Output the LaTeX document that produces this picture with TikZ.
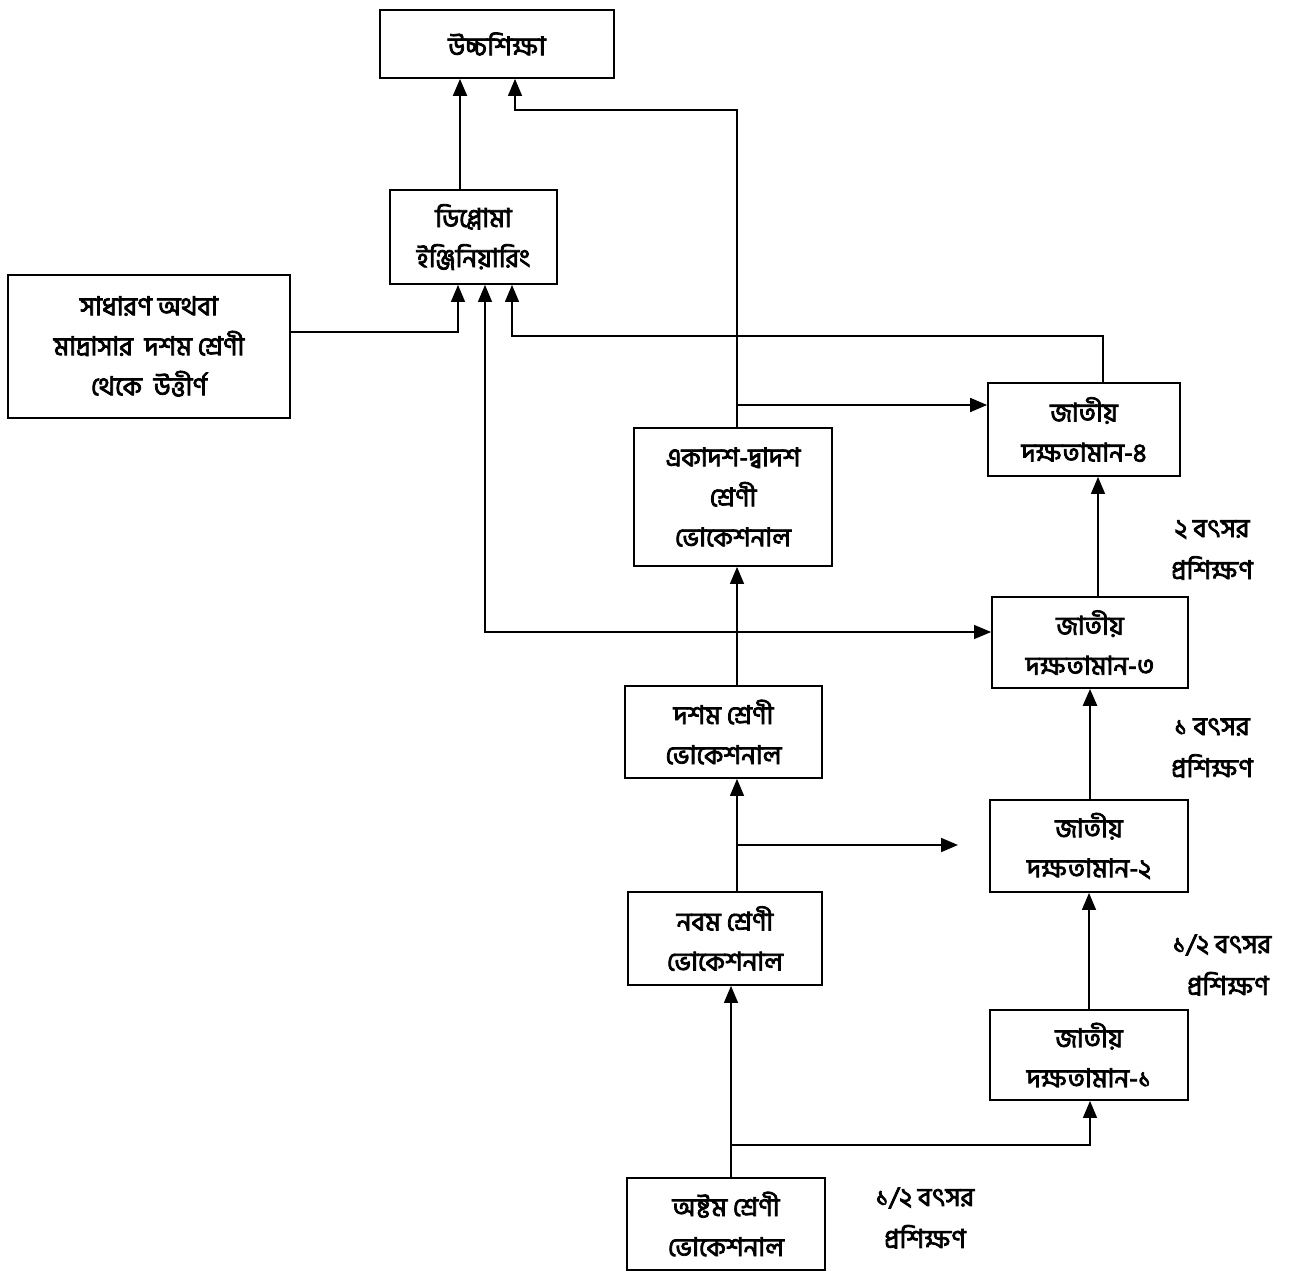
\documentclass[tikz,border=0pt]{standalone}
\usepackage{fontspec}
\newfontfamily\bn[Script=Bengali,FakeBold=3]{Hind Siliguri}
\usetikzlibrary{arrows.meta}
\begin{document}
\begin{tikzpicture}[x=1pt,y=-1pt,
  box/.style={draw,line width=1.8pt,rectangle,align=center,inner sep=0pt,
    font=\bn\fontsize{26}{40}\selectfont},
  lbl/.style={align=center,font=\bn\fontsize{26}{42}\selectfont},
  arr/.style={line width=1.3pt,-{Triangle[length=17pt,width=14pt]}},
  darr/.style={line width=1.3pt,{Triangle[length=17pt,width=14pt]}-{Triangle[length=17pt,width=14pt]}}]
\useasboundingbox (0,0) rectangle (1295,1273);
\node[box,minimum width=234pt,minimum height=68pt] (hs) at (497,44) {উচ্চশিক্ষা};
\node[box,minimum width=167pt,minimum height=94pt] (dip) at (473.5,237) {ডিপ্লোমা\\ইঞ্জিনিয়ারিং};
\node[box,minimum width=282pt,minimum height=143pt] (gen) at (149,346.5) {সাধারণ অথবা\\মাদ্রাসার\ \ দশম শ্রেণী\\থেকে\ \ উত্তীর্ণ};
\node[box,minimum width=198pt,minimum height=138pt] (ek) at (733,497) {একাদশ-দ্বাদশ\\শ্রেণী\\ভোকেশনাল};
\node[box,minimum width=192pt,minimum height=93pt] (j4) at (1084,429.5) {জাতীয়\\দক্ষতামান-৪};
\node[box,minimum width=196pt,minimum height=91pt] (j3) at (1090,642.5) {জাতীয়\\দক্ষতামান-৩};
\node[box,minimum width=197pt,minimum height=92pt] (dosh) at (723.5,732) {দশম শ্রেণী\\ভোকেশনাল};
\node[box,minimum width=198pt,minimum height=92pt] (j2) at (1089,846) {জাতীয়\\দক্ষতামান-২};
\node[box,minimum width=194pt,minimum height=93pt] (nob) at (725,938.5) {নবম শ্রেণী\\ভোকেশনাল};
\node[box,minimum width=198pt,minimum height=90pt] (j1) at (1089,1055) {জাতীয়\\দক্ষতামান-১};
\node[box,minimum width=198pt,minimum height=92pt] (ost) at (726,1224) {অষ্টম শ্রেণী\\ভোকেশনাল};
\node[lbl] (l2) at (1212,550) {২ বৎসর\\প্রশিক্ষণ};
\node[lbl] (l1) at (1212,748) {১ বৎসর\\প্রশিক্ষণ};
\node[lbl] (lh) at (1222,965) {১/২ বৎসর\\\ \ প্রশিক্ষণ};
\node[lbl] (lb) at (925,1218) {১/২ বৎসর\\প্রশিক্ষণ};
\coordinate (c1) at (515,110);
\coordinate (c2) at (512,336);
\coordinate (b1) at (737,405);
\coordinate (b3) at (737,845);
\coordinate (e3) at (958,845);
\coordinate (b4) at (731,1145);
% connectors
\draw[arr,line width=2pt] ([xshift=-13.5pt]dip.north) -- ([xshift=-37pt]hs.south);
\draw[arr] ([xshift=4pt]ek.north) |- (c1) -- ([xshift=18pt]hs.south);
\draw[arr] ([yshift=14.5pt]gen.east) -| ([xshift=-15.5pt]dip.south);
\draw[arr] ([xshift=19pt]j4.north) |- (c2) -- ([xshift=38.5pt]dip.south);
\draw[arr,line width=1.8pt] (b1) -- (j4.west |- b1);
\draw[darr] ([xshift=11.5pt]dip.south) |- ([yshift=10.5pt]j3.west);
\draw[arr] ([xshift=4pt]ek.south |- dosh.north) -- ([xshift=4pt]ek.south);
\draw[arr] ([xshift=12pt]nob.north) -- ([xshift=12pt]nob.north |- dosh.south);
\draw[arr,line width=1.8pt] (b3) -- (e3);
\draw[arr] ([xshift=5pt]ost.north) -- ([xshift=5pt]ost.north |- nob.south);
\draw[arr] (b4) -| ([xshift=1pt]j1.south);
\draw[arr] (j1.north) -- (j2.south);
\draw[arr,line width=2.6pt] ([xshift=1pt]j2.north) -- ([xshift=1pt]j2.north |- j3.south);
\draw[arr] ([xshift=14pt]j4.south |- j3.north) -- ([xshift=14pt]j4.south);
\end{tikzpicture}
\end{document}
